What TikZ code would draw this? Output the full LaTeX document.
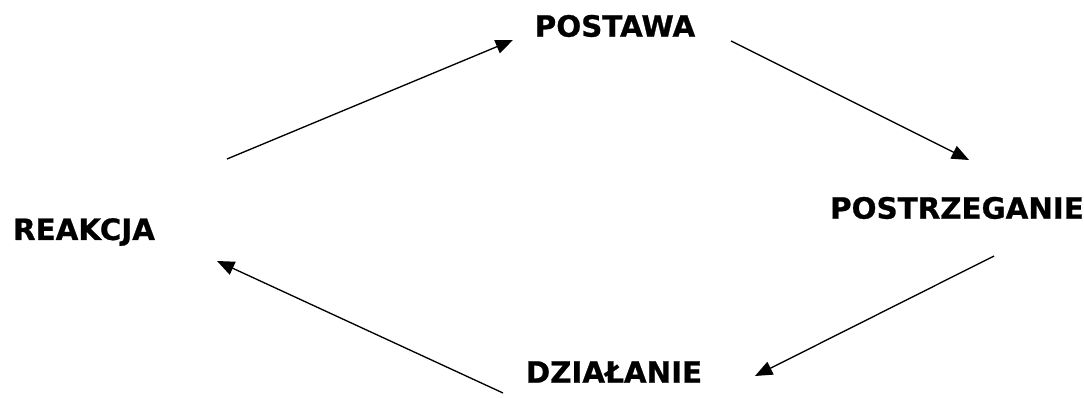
\documentclass[tikz,border=0pt]{standalone}
\usepackage{fontspec}
\setmainfont{DejaVu Sans}[BoldFeatures={FakeBold=0.8}]
\usetikzlibrary{arrows.meta}
\begin{document}
\begin{tikzpicture}[x=0.75pt,y=-0.75pt,
  label/.style={font=\bfseries\fontsize{22pt}{24pt}\selectfont, inner sep=0pt, anchor=center},
  link/.style={line width=1pt, -{Triangle[length=13pt,width=10.5pt]}}]
  \useasboundingbox (0,0) rectangle (1084,398);
  % stage labels
  \node[label] (postawa) at (615,26) {POSTAWA};
  \node[label] (postrz) at (957,208) {POSTRZEGANIE};
  \node[label] (reakcja) at (84,232) {REAKCJA};
  \node[label] (dzialanie) at (614,372) {DZIAŁANIE};
  % arrow end points around the cycle
  \coordinate (a1) at (227,159);
  \coordinate (b1) at (513,40);
  \coordinate (a2) at (731,41);
  \coordinate (b2) at (969,160);
  \coordinate (a3) at (994,256);
  \coordinate (b3) at (755,376);
  \coordinate (a4) at (503,393);
  \coordinate (b4) at (217,261);
  \draw[link] (a1) -- (b1);
  \draw[link] (a2) -- (b2);
  \draw[link] (a3) -- (b3);
  \draw[link] (a4) -- (b4);
\end{tikzpicture}
\end{document}
